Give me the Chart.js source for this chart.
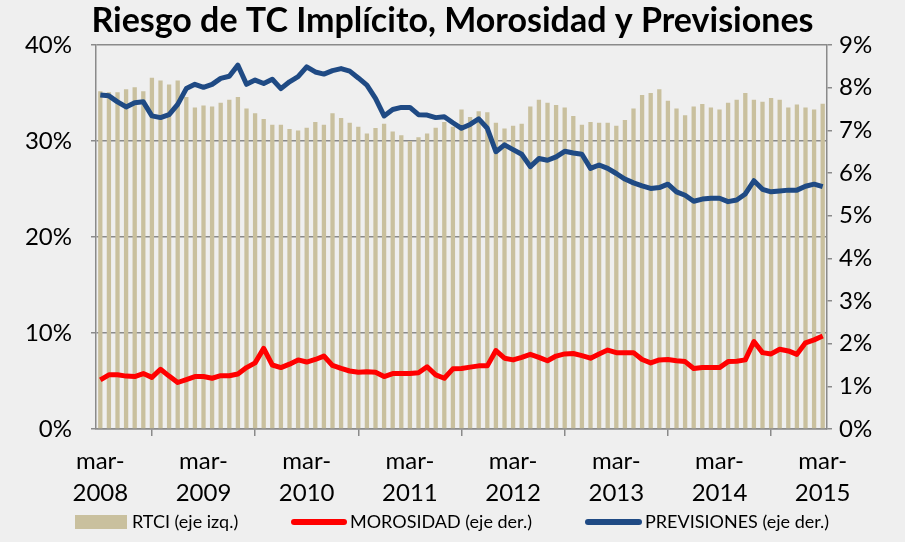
<!DOCTYPE html>
<html>
<head>
<meta charset="utf-8">
<script src="https://cdn.jsdelivr.net/npm/chart.js@4"></script>
<style>
  html, body { margin: 0; padding: 0; background: #efefef; }
  #wrap { width: 905px; height: 542px; position: relative; }
</style>
</head>
<body>
<div id="wrap"><canvas id="riesgoChart"></canvas></div>
<script>
// monthly categories, mar-2008 .. mar-2015
const months = ['mar', 'abr', 'may', 'jun', 'jul', 'ago', 'sep', 'oct', 'nov', 'dic', 'ene', 'feb'];
const startYear = 2008;
const nMonths = 85;

// RTCI, % (left axis)
const rtci = [
    35.2, 35.1, 35.1, 35.4, 35.6, 35.2, 36.6, 36.3, 35.9, 36.3,
    34.6, 33.5, 33.7, 33.6, 34.0, 34.3, 34.6, 33.4, 32.9, 32.3,
    31.7, 31.7, 31.25, 31.1, 31.4, 32.0, 31.7, 32.9, 32.4, 31.9,
    31.5, 30.8, 31.35, 31.8, 31.0, 30.6, 30.0, 30.4, 30.8, 31.4,
    32.0, 31.5, 33.3, 32.5, 33.1, 33.0, 31.9, 31.3, 31.6, 31.8,
    33.6, 34.3, 34.0, 33.75, 33.5, 32.6, 31.7, 32.0, 31.9, 31.9,
    31.6, 32.2, 33.4, 34.8, 35.0, 35.4, 34.2, 33.4, 32.7, 33.6,
    33.85, 33.5, 33.3, 34.0, 34.3, 35.0, 34.3, 34.1, 34.5, 34.3,
    33.5, 33.8, 33.5, 33.3, 33.9
];

// Morosidad, % (right axis)
const morosidad = [
    1.15, 1.27, 1.27, 1.24, 1.23, 1.30, 1.21, 1.40, 1.24, 1.09,
    1.16, 1.23, 1.23, 1.19, 1.25, 1.25, 1.29, 1.44, 1.55, 1.89,
    1.50, 1.44, 1.52, 1.62, 1.57, 1.63, 1.71, 1.49, 1.42, 1.36,
    1.33, 1.34, 1.33, 1.23, 1.30, 1.30, 1.30, 1.32, 1.46, 1.27,
    1.19, 1.41, 1.42, 1.45, 1.48, 1.48, 1.84, 1.66, 1.62, 1.68,
    1.75, 1.68, 1.60, 1.71, 1.76, 1.77, 1.72, 1.66, 1.76, 1.85,
    1.79, 1.79, 1.79, 1.63, 1.55, 1.62, 1.63, 1.60, 1.58, 1.42,
    1.44, 1.44, 1.44, 1.58, 1.59, 1.62, 2.05, 1.79, 1.76, 1.87,
    1.83, 1.75, 2.02, 2.09, 2.18
];

// Previsiones, % (right axis)
const previsiones = [
    7.83, 7.81, 7.67, 7.55, 7.65, 7.67, 7.34, 7.30, 7.37, 7.61,
    7.98, 8.08, 8.01, 8.08, 8.22, 8.27, 8.53, 8.08, 8.18, 8.10,
    8.20, 7.98, 8.14, 8.26, 8.49, 8.37, 8.32, 8.40, 8.45, 8.39,
    8.23, 8.06, 7.75, 7.34, 7.49, 7.54, 7.54, 7.37, 7.36, 7.30,
    7.32, 7.18, 7.05, 7.14, 7.27, 7.05, 6.50, 6.66, 6.55, 6.44,
    6.15, 6.34, 6.30, 6.38, 6.51, 6.47, 6.44, 6.11, 6.19, 6.11,
    5.99, 5.86, 5.77, 5.70, 5.64, 5.66, 5.74, 5.56, 5.48, 5.34,
    5.39, 5.41, 5.41, 5.33, 5.37, 5.51, 5.82, 5.62, 5.56, 5.58,
    5.60, 5.60, 5.69, 5.74, 5.68
];

const legendLabels = ['RTCI (eje izq.)', 'MOROSIDAD (eje der.)', 'PREVISIONES (eje der.)'];
const titleText = 'Riesgo de TC Implícito, Morosidad y Previsiones';

const labels = [];
for (let i = 0; i < nMonths; i++) {
    const year = startYear + Math.floor((i + 2) / 12);
    labels.push(months[i % 12] + '-' + year);
}

const beige = '#c9c09e';
const red = '#ff0000';
const blue = '#1f4a84';
const axisGray = '#8a8a8a';
const font = "Lato, 'Open Sans', sans-serif";

// legend drawn under the axis, Excel style
const bottomLegend = {
    id: 'bottomLegend',
    afterDraw(chart) {
        const ctx = chart.ctx;
        const y = 522;
        ctx.save();
        ctx.font = '18px ' + font;
        ctx.textBaseline = 'middle';

        ctx.fillStyle = beige;
        ctx.fillRect(75, y - 7, 52, 14);
        ctx.fillStyle = '#000';
        ctx.fillText(legendLabels[0], 132, y);

        ctx.lineCap = 'round';
        ctx.lineWidth = 6;
        ctx.strokeStyle = red;
        ctx.beginPath(); ctx.moveTo(294, y); ctx.lineTo(344, y); ctx.stroke();
        ctx.fillText(legendLabels[1], 350, y);

        ctx.strokeStyle = blue;
        ctx.beginPath(); ctx.moveTo(588, y); ctx.lineTo(639, y); ctx.stroke();
        ctx.fillText(legendLabels[2], 645, y);
        ctx.restore();
    }
};

const ctx = document.getElementById('riesgoChart').getContext('2d');
new Chart(ctx, {
    type: 'bar',
    data: {
        labels: labels,
        datasets: [
            {
                type: 'line',
                label: legendLabels[2],
                data: previsiones,
                yAxisID: 'y1',
                borderColor: blue,
                borderWidth: 5,
                pointRadius: 0,
                tension: 0,
                borderJoinStyle: 'round',
                order: 1
            },
            {
                type: 'line',
                label: legendLabels[1],
                data: morosidad,
                yAxisID: 'y1',
                borderColor: red,
                borderWidth: 5,
                pointRadius: 0,
                tension: 0,
                borderJoinStyle: 'round',
                order: 1
            },
            {
                label: legendLabels[0],
                data: rtci,
                yAxisID: 'y',
                backgroundColor: beige,
                barPercentage: 0.5,
                categoryPercentage: 1,
                order: 2
            }
        ]
    },
    options: {
        responsive: true,
        maintainAspectRatio: false,
        animation: false,
        layout: { padding: { left: 0, right: 0, top: 0, bottom: 33 } },
        plugins: {
            legend: { display: false },
            tooltip: { enabled: false },
            title: {
                display: true,
                text: titleText,
                color: '#000',
                font: { family: font, size: 34, weight: 'bold', lineHeight: 1.15 },
                padding: { top: 1, bottom: 5 }
            }
        },
        scales: {
            x: {
                afterFit: s => { s.height = 80; },
                grid: { drawOnChartArea: false, color: axisGray, lineWidth: 1.5, tickLength: 7, offset: true },
                border: { color: axisGray, width: 1.5 },
                ticks: {
                    autoSkip: false,
                    maxRotation: 0,
                    padding: 10,
                    color: '#000',
                    font: { family: font, size: 24, lineHeight: 1.3 },
                    callback: function (v, i) {
                        if (i % 12 !== 0) return null;
                        const lab = this.getLabelForValue(v);
                        return [lab.slice(0, 4), lab.slice(4)];
                    }
                }
            },
            y: {
                position: 'left',
                min: 0,
                max: 40,
                afterFit: s => { s.width = 96; },
                grid: { color: axisGray, lineWidth: 1.5, tickLength: 5 },
                border: { color: axisGray, width: 1.5 },
                ticks: {
                    stepSize: 10,
                    padding: 19,
                    color: '#000',
                    font: { family: font, size: 24 },
                    callback: v => v + '%'
                }
            },
            y1: {
                position: 'right',
                min: 0,
                max: 9,
                afterFit: s => { s.width = 78; },
                grid: { drawOnChartArea: false, color: axisGray, lineWidth: 1.5, tickLength: 5 },
                border: { color: axisGray, width: 1.5 },
                ticks: {
                    stepSize: 1,
                    padding: 7,
                    color: '#000',
                    font: { family: font, size: 24 },
                    callback: v => v + '%'
                }
            }
        }
    },
    plugins: [bottomLegend]
});
</script>
</body>
</html>
